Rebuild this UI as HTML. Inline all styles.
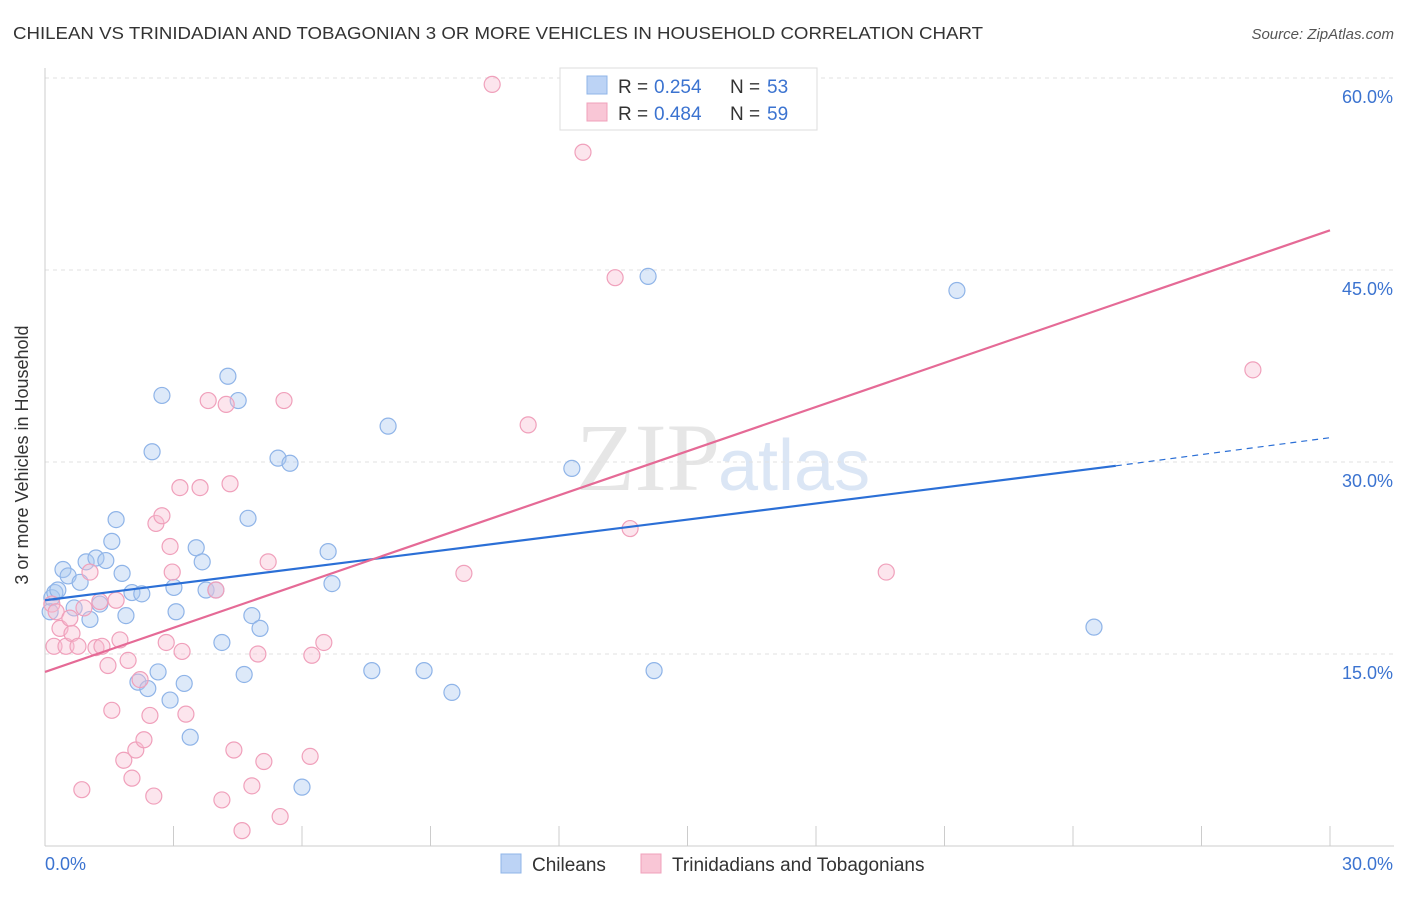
<!DOCTYPE html>
<html><head><meta charset="utf-8"><style>
body{margin:0;background:#fff;font-family:"Liberation Sans",sans-serif;}
</style></head><body>
<svg width="1406" height="892" xmlns="http://www.w3.org/2000/svg" font-family="Liberation Sans, sans-serif">
<text x="13" y="39" font-size="17.5" fill="#333" textLength="970" lengthAdjust="spacingAndGlyphs">CHILEAN VS TRINIDADIAN AND TOBAGONIAN 3 OR MORE VEHICLES IN HOUSEHOLD CORRELATION CHART</text>
<text x="1394" y="39" font-size="15" fill="#555" text-anchor="end" font-style="italic">Source: ZipAtlas.com</text>
<text x="720" y="490" font-size="96" fill="#e6e6e6" text-anchor="end" font-family="Liberation Serif, serif">ZIP</text>
<text x="718" y="490" font-size="72" fill="#dbe6f5">atlas</text>
<g id="grid"></g>
<g id="axes"></g>
<g id="pts"></g>
<g id="trend"></g>
<text x="28" y="455" font-size="18" fill="#333" text-anchor="middle" transform="rotate(-90 28 455)">3 or more Vehicles in Household</text>
<g>
<rect x="560" y="68" width="257" height="62" fill="#fff" stroke="#ddd"/>
<rect x="587" y="76" width="20" height="18" fill="#bcd3f5" stroke="#8fb4e8"/>
<rect x="587" y="103" width="20" height="18" fill="#f9c6d6" stroke="#f0a0bb"/>
<text y="93" font-size="19" fill="#333"><tspan x="618">R =</tspan><tspan x="654" fill="#3b73d0">0.254</tspan><tspan x="730">N =</tspan><tspan x="767" fill="#3b73d0">53</tspan></text>
<text y="120" font-size="19" fill="#333"><tspan x="618">R =</tspan><tspan x="654" fill="#3b73d0">0.484</tspan><tspan x="730">N =</tspan><tspan x="767" fill="#3b73d0">59</tspan></text>
</g>
<g>
<rect x="501" y="854" width="20" height="19" fill="#bcd3f5" stroke="#8fb4e8"/>
<text x="532" y="871" font-size="19" fill="#333">Chileans</text>
<rect x="641" y="854" width="20" height="19" fill="#f9c6d6" stroke="#f0a0bb"/>
<text x="672" y="871" font-size="19" fill="#333">Trinidadians and Tobagonians</text>
</g>
</svg>
<script>
const blueX=[0.16,0.23,0.30,0.12,0.42,0.54,0.82,0.68,1.05,0.96,1.19,1.28,1.42,1.56,1.66,1.80,1.89,2.03,2.26,2.17,2.40,2.64,2.73,2.50,2.92,3.06,3.01,3.25,3.39,3.53,3.67,3.76,3.99,4.13,4.27,4.51,4.65,4.74,4.83,5.02,5.44,5.72,6.00,6.61,6.70,7.63,8.01,8.85,9.50,12.30,14.08,14.22,21.29,24.49];
const blueY=[19.4,19.8,20.0,18.3,21.6,21.1,20.6,18.6,17.7,22.2,22.5,18.9,22.3,23.8,25.5,21.3,18.0,19.8,19.7,12.8,12.3,13.6,35.2,30.8,11.4,18.3,20.2,12.7,8.5,23.3,22.2,20.0,20.0,15.9,36.7,34.8,13.4,25.6,18.0,17.0,30.3,29.9,4.6,23.0,20.5,13.7,32.8,13.7,12.0,29.5,44.5,13.7,43.4,17.1];
const pinkX=[10.44,12.56,13.31,28.20,0.16,0.26,0.35,0.21,0.49,0.63,0.58,0.77,0.91,1.05,1.19,1.28,1.33,1.47,1.56,1.66,1.75,1.84,1.94,2.03,2.12,2.22,2.31,2.45,2.54,2.59,2.73,2.83,2.92,2.97,3.15,3.20,3.29,3.62,3.81,3.99,4.13,4.23,4.32,4.41,4.60,4.83,4.97,5.11,5.21,5.49,5.58,6.23,6.19,6.51,9.78,11.28,13.66,19.64,0.86];
const pinkY=[59.5,54.2,44.4,37.2,18.9,18.3,17.0,15.6,15.6,16.6,17.8,15.6,18.6,21.4,15.5,19.1,15.6,14.1,10.6,19.2,16.1,6.7,14.5,5.3,7.5,13.0,8.3,10.2,3.9,25.2,25.8,15.9,23.4,21.4,28.0,15.2,10.3,28.0,34.8,20.0,3.6,34.5,28.3,7.5,1.2,4.7,15.0,6.6,22.2,2.3,34.8,14.9,7.0,15.9,21.3,32.9,24.8,21.4,4.4];
const yTicks=[15,30,45,60];
const yTickLabels=["15.0%","30.0%","45.0%","60.0%"];
const blueTrend=[19.2,29.7,31.9];
const pinkTrend=[13.6,48.1];
const NS='http://www.w3.org/2000/svg';
const sx=v=>45+v*(1285/30), sy=v=>846-v*12.8;
function mk(p,t,a){const e=document.createElementNS(NS,t);for(const k in a)e.setAttribute(k,a[k]);document.getElementById(p).appendChild(e);return e;}
yTicks.forEach((t,i)=>{
 const g=mk('grid','line',{x1:45,x2:1394,y1:sy(t),y2:sy(t),stroke:'#e2e2e2','stroke-dasharray':'4,4'});
 
 
 const l=mk('grid','text',{x:1393,y:sy(t)+25,'font-size':18,fill:'#3b73d0','text-anchor':'end'});
 l.textContent=yTickLabels[i];
 
 
});
const ax=mk('axes','line',{x1:45,x2:1394,y1:846,y2:846,stroke:'#ccc'});


const ay=mk('axes','line',{x1:45,x2:45,y1:68,y2:846,stroke:'#ccc'});


for(let i=0;i<=10;i++){const t=mk('axes','line',{x1:sx(i*3),x2:sx(i*3),y1:826,y2:846,stroke:'#ccc'});
 
 }
[["0.0%",45,'start'],["30.0%",1393,'end']].forEach(a=>{const t=mk('axes','text',{x:a[1],y:870,'font-size':18,fill:'#3b73d0','text-anchor':a[2]});t.textContent=a[0];
 
 });
function pts(X,Y,f,s,n){X.forEach((x,i)=>{const c=mk('pts','circle',{cx:sx(x),cy:sy(Y[i]),r:8,fill:f,stroke:s,'stroke-width':1.2});
 
 });}
pts(blueX,blueY,'rgba(170,200,240,0.4)','#8fb4e8','chilean-point');
pts(pinkX,pinkY,'rgba(248,190,210,0.4)','#f0a0bb','trinidadian-point');
const b1=mk('trend','line',{x1:sx(0),y1:sy(blueTrend[0]),x2:sx(25),y2:sy(blueTrend[1]),stroke:'#2b6fd6','stroke-width':2.2});


const b2=mk('trend','line',{x1:sx(25),y1:sy(blueTrend[1]),x2:sx(30),y2:sy(blueTrend[2]),stroke:'#2b6fd6','stroke-width':1.2,'stroke-dasharray':'6,5'});


const p1=mk('trend','line',{x1:sx(0),y1:sy(pinkTrend[0]),x2:sx(30),y2:sy(pinkTrend[1]),stroke:'#e56a96','stroke-width':2.2});


</script>
</body></html>
